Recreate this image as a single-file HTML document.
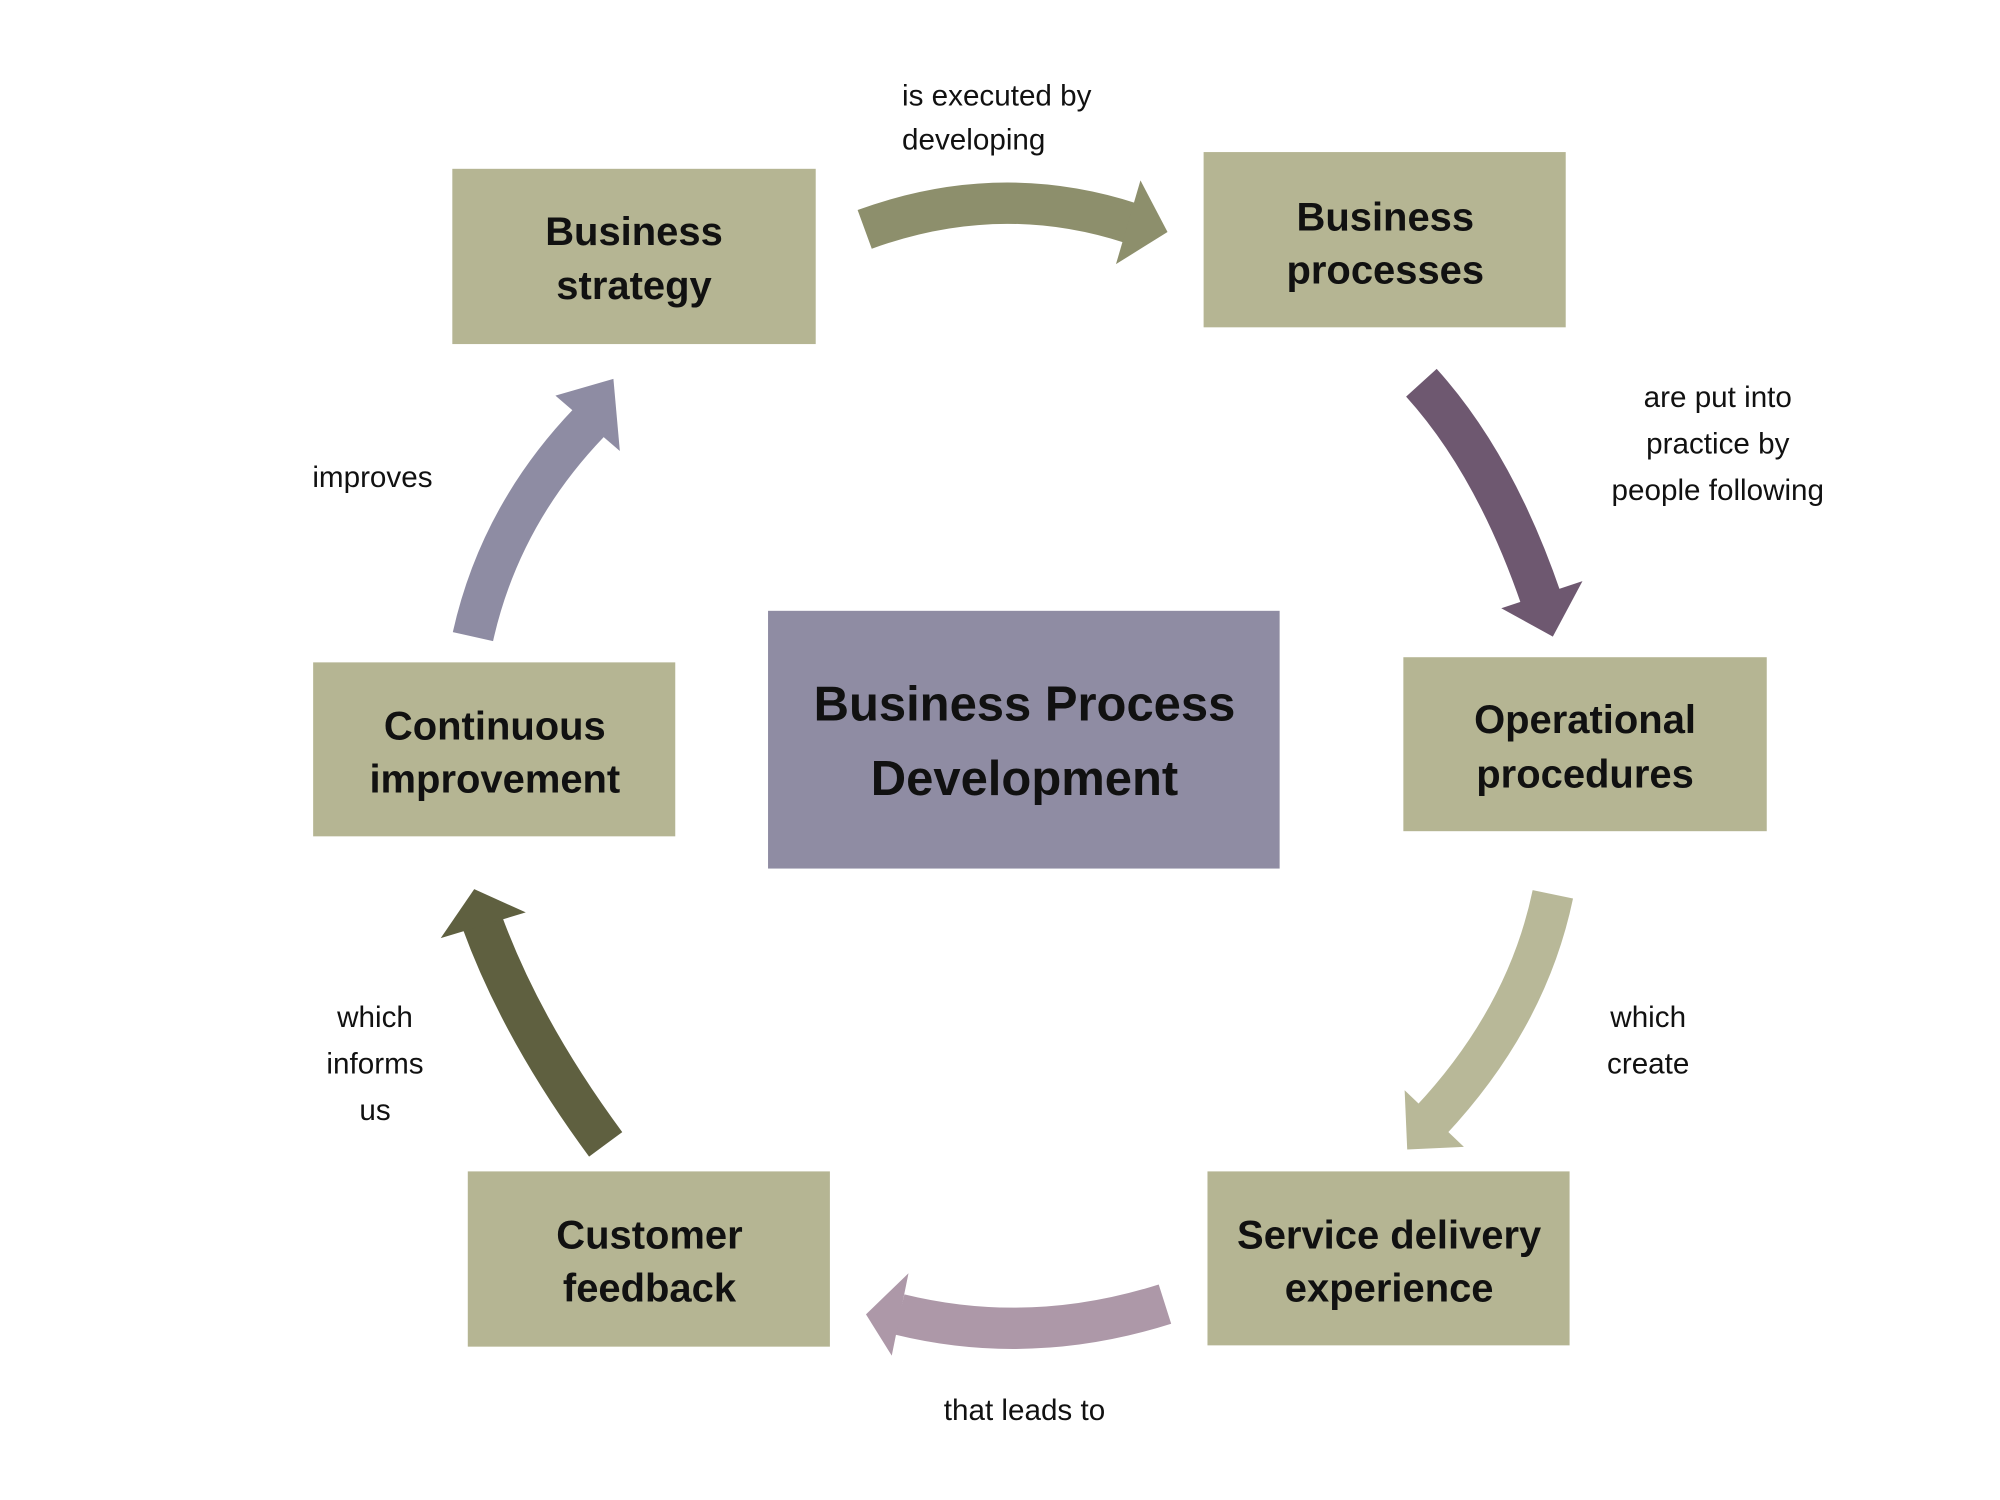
<!DOCTYPE html>
<html><head><meta charset="utf-8"><style>
html,body{margin:0;padding:0;background:#fff;}
svg{display:block;}
text{font-family:"Liberation Sans",sans-serif;}
.b{font-weight:bold;font-size:31px;fill:#111;}
.c{font-weight:bold;font-size:38px;fill:#111;}
.l{font-size:23px;fill:#111;}
</style></head><body>
<svg width="2000" height="1500" viewBox="0 0 1552 1164" xmlns="http://www.w3.org/2000/svg">
<rect width="1552" height="1164" fill="#fff"/>
<g fill="#b5b593">
<rect x="351" y="131" width="282" height="136"/>
<rect x="934" y="118" width="281" height="136"/>
<rect x="1089" y="510" width="282" height="135"/>
<rect x="937" y="909" width="281" height="135"/>
<rect x="363" y="909" width="281" height="136"/>
<rect x="243" y="514" width="281" height="135"/>
</g>
<rect x="596" y="474" width="397" height="200" fill="#8f8ca3"/>
<g fill="none" stroke-width="32">
<path d="M671,178 Q775,140 877,173" stroke="#8d8f6c"/>
<path d="M1103,297 Q1160,360 1196,465" stroke="#6e5870"/>
<path d="M1205,694 Q1185,790 1110,870" stroke="#b8b898"/>
<path d="M904,1012 Q800,1045 698,1020" stroke="#ad98a8"/>
<path d="M470,888 Q405,800 374,715" stroke="#5f6040"/>
<path d="M367,494 Q388,400 457,328" stroke="#8e8ca3"/>
</g>
<polygon points="885,140 906,180 866,205" fill="#8d8f6c"/>
<polygon points="1165,472 1205,494 1228,451" fill="#6e5870"/>
<polygon points="1090,846 1092,892 1136,890" fill="#b8b898"/>
<polygon points="705,988 672,1020 692,1052" fill="#ad98a8"/>
<polygon points="342,728 368,690 408,708" fill="#5f6040"/>
<polygon points="431,307 476,294 481,350" fill="#8e8ca3"/>
<g class="b" text-anchor="middle">
<text x="492" y="190">Business</text><text x="492" y="232">strategy</text>
<text x="1075" y="179">Business</text><text x="1075" y="220">processes</text>
<text x="1230" y="569">Operational</text><text x="1230" y="611">procedures</text>
<text x="1078" y="969">Service delivery</text><text x="1078" y="1010">experience</text>
<text x="504" y="969">Customer</text><text x="504" y="1010">feedback</text>
<text x="384" y="574">Continuous</text><text x="384" y="615">improvement</text>
</g>
<g class="c" text-anchor="middle">
<text x="795" y="559">Business Process</text>
<text x="795" y="617">Development</text>
</g>
<g class="l">
<text x="700" y="82">is executed by</text><text x="700" y="116">developing</text>
</g>
<g class="l" text-anchor="middle">
<text x="1333" y="316">are put into</text><text x="1333" y="352">practice by</text><text x="1333" y="388">people following</text>
<text x="289" y="378">improves</text>
<text x="291" y="797">which</text><text x="291" y="833">informs</text><text x="291" y="869">us</text>
<text x="1279" y="797">which</text><text x="1279" y="833">create</text>
<text x="795" y="1102">that leads to</text>
</g>
</svg>
</body></html>
